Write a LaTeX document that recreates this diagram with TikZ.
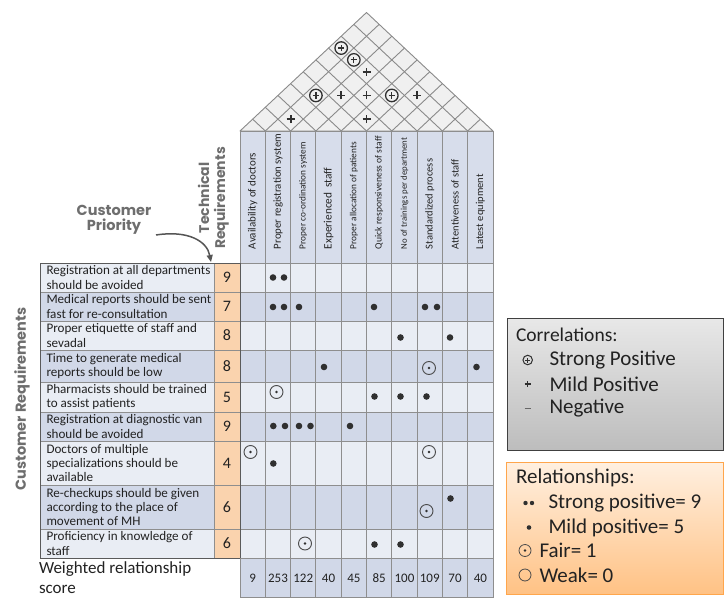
\documentclass[tikz,border=0pt]{standalone}
\usepackage{fontspec}
\setmainfont{Carlito}
\newfontfamily\hdrfont{Poppins}
\usetikzlibrary{arrows.meta}

\definecolor{rowlight}{HTML}{E9EDF4}
\definecolor{rowdark}{HTML}{D1D8E8}
\definecolor{hdrfill}{HTML}{D7DDEB}
\definecolor{prio}{HTML}{FAD3AE}
\definecolor{gridc}{HTML}{8E8E8E}
\definecolor{tblc}{HTML}{5A5A5A}
\definecolor{rooffill}{HTML}{F0F0F0}
\definecolor{roofc}{HTML}{8A8A8A}
\definecolor{labelgray}{HTML}{6E6E6E}
\definecolor{ink}{HTML}{222222}
\definecolor{dotc}{HTML}{303030}
\definecolor{fairc}{HTML}{4A4A4A}
\definecolor{arrowc}{HTML}{555555}

% a plus sign drawn on the centre of a node: node, half arm length, line width
\newcommand{\hoqplus}[3]{%
  \draw[dotc, line width=#3] ([xshift=-#2]#1.center) -- ([xshift=#2]#1.center)
    ([yshift=-#2]#1.center) -- ([yshift=#2]#1.center);}

\begin{document}
\begin{tikzpicture}[x=1pt,y=-1pt,
  every node/.style={inner sep=0pt, outer sep=0pt},
  gridline/.style={draw=gridc, line width=0.9pt},
  roofline/.style={draw=roofc, line width=0.9pt},
  bodytext/.style={anchor=west, align=left, text=ink, font=\fontsize{13.1}{14.2}\selectfont},
  prionum/.style={text=ink, font=\fontsize{16}{16}\selectfont},
  scorenum/.style={text=ink, font=\fontsize{13}{13}\selectfont},
  hdrtext/.style={rotate=90, anchor=west, text=ink},
  rdot/.style={circle, fill=dotc, minimum size=6.6pt},
  rfair/.style={circle, draw=fairc, line width=0.9pt, minimum size=13pt,
    path picture={\fill[dotc] (path picture bounding box.center) circle (1.4pt);}},
  cstrong/.style={circle, draw=dotc, line width=1.3pt, minimum size=12.5pt},
  cmild/.style={minimum size=8pt},
  sidelabel/.style={text=labelgray, align=center, font=\hdrfont\bfseries\fontsize{#1}{#1}\selectfont},
  legtext/.style={anchor=west, text=ink, font=\fontsize{21}{21}\selectfont},
]
\useasboundingbox (0,0) rectangle (725,607);

% ---------- roof (correlation matrix) ----------
\fill[rooffill] (240,131) -- (366.5,12.5) -- (493,131) -- cycle;
\foreach \k in {1,...,9}{
  \draw[roofline] (240+25.3*\k,131) -- ({240+12.65*(\k+10)},{131-11.85*(10-\k)});
  \draw[roofline] (240+25.3*\k,131) -- ({240+12.65*\k},{131-11.85*\k});
}
\draw[roofline, line join=round] (240,131) -- (366.5,12.5) -- (493,131) -- cycle;

% strong positive correlations
\foreach \i/\j in {1/8, 2/8, 2/5, 5/8}{
  \node[cstrong] (cs\i\j) at ({240+12.65*(\i+\j-1)},{131-11.85*(\j-\i)}) {};
  \hoqplus{cs\i\j}{3.2pt}{1.2pt}
}
% mild positive correlations
\foreach \i/\j in {3/8, 3/6, 4/7, 6/9, 2/3, 5/6}{
  \node[cmild] (cm\i\j) at ({240+12.65*(\i+\j-1)},{131-11.85*(\j-\i)}) {};
  \hoqplus{cm\i\j}{4pt}{1.8pt}
}

% ---------- technical requirement headers ----------
\foreach \k in {0,...,9}
  \draw[gridline, fill=hdrfill] (240+25.3*\k,131) rectangle (265.3+25.3*\k,263);
\foreach \txt/\fs [count=\k] in {
    Availability of doctors/11,
    Proper registration system/10.8,
    Proper co-ordination system/9.3,
    Experienced~ staff/11.3,
    Proper allocation of patients/9.3,
    Quick responsiveness of staff/9.6,
    No of trainings per department/8.8,
    Standardized process/10.5,
    Attentiveness of staff/10.5,
    Latest equipment/10.5}
  \node[hdrtext, font=\fontsize{\fs}{\fs}\selectfont] (h\k) at ({240+25.3*(\k-0.5)},249) {\txt};

% ---------- body rows ----------
\foreach \ya/\yb/\fc in {263/292/rowlight, 292/321/rowdark, 321/350/rowlight,
    350/382/rowdark, 382/412/rowlight, 412/441/rowdark, 441/485/rowlight,
    485/529/rowdark, 529/558/rowlight}{
  \draw[gridline, fill=\fc] (40,\ya) rectangle (214,\yb);
  \draw[gridline, fill=prio] (214,\ya) rectangle (240,\yb);
  \foreach \k in {0,...,9}
    \draw[gridline, fill=\fc] (240+25.3*\k,\ya) rectangle (265.3+25.3*\k,\yb);
}
\draw[draw=tblc, line width=1pt] (40,263) rectangle (240,558);

% customer requirements
\node[bodytext] (cr1) at (46.5,277.5) {Registration at all departments\\should be avoided};
\node[bodytext] (cr2) at (46.5,306.5) {Medical reports should be sent\\fast for re-consultation};
\node[bodytext] (cr3) at (46.5,335.5) {Proper etiquette of staff and\\sevadal};
\node[bodytext] (cr4) at (46.5,366) {Time to generate medical\\reports should be low};
\node[bodytext] (cr5) at (46.5,397) {Pharmacists should be trained\\to assist patients};
\node[bodytext] (cr6) at (46.5,426.5) {Registration at diagnostic van\\should be avoided};
\node[bodytext] (cr7) at (46.5,463) {Doctors of multiple\\specializations should be\\available};
\node[bodytext] (cr8) at (46.5,507) {Re-checkups should be given\\according to the place of\\movement of MH};
\node[bodytext] (cr9) at (46.5,543.5) {Proficiency in knowledge of\\staff};

% customer priority values
\foreach \v/\y [count=\r] in {9/277.5, 7/306.5, 8/335.5, 8/366, 5/397, 9/426.5, 4/463, 6/507, 6/543.5}
  \node[prionum] (p\r) at (227,\y) {\v};

% ---------- relationship symbols ----------
\foreach \x/\y [count=\n] in {
    273/277.5, 284/277.5,
    273/307, 284/307, 299/307, 374/307, 425/307, 437/307,
    400.5/337.5, 450/337.5,
    324/367, 476.5/367,
    374.5/396.5, 400.5/396.5, 426.5/396.5,
    273.3/426, 285/426, 299/426, 310.5/426, 350/426,
    273.3/463.5,
    450.5/498.5,
    374.5/544.5, 400.5/544.5}
  \node[rdot] (d\n) at (\x,\y) {};
\foreach \x/\y [count=\n] in {
    429/368, 276.5/392, 250.5/452, 429/452, 426.5/511, 305/543.5}
  \node[rfair] (f\n) at (\x,\y) {};

% ---------- weighted score row ----------
\foreach \v [count=\k from 0] in {9,253,122,40,45,85,100,109,70,40}{
  \draw[gridline, fill=rowdark] (240+25.3*\k,558) rectangle (265.3+25.3*\k,597);
  \node[scorenum] (s\k) at (252.65+25.3*\k,578.5) {\v};
}
\node[anchor=west, align=left, text=ink, font=\fontsize{17}{20}\selectfont]
  (wrs) at (39,578) {Weighted relationship\\score};

% ---------- side labels ----------
\node[sidelabel=14.5, rotate=90] (custreq) at (22,399) {Customer Requirements};
\node[sidelabel=14.5] (cprio) at (114,220) {Customer\\[1pt]Priority};
\node[sidelabel=14, rotate=90] (techreq) at (213.5,198) {Technical\\[2pt]Requirements};
\coordinate (cpTail) at (156,235);
\coordinate (cpHead) at (211,262);
\draw[arrowc, line width=1.5pt, -{Triangle[length=7pt,width=6pt]}]
  (cpTail) .. controls (188,230) and (207,241) .. (cpHead);

% ---------- legend: correlations ----------
\node[draw=black!75, line width=0.9pt, top color=black!9, bottom color=black!26,
  minimum width=216pt, minimum height=132pt] (corbox) at (615,384) {};
\node[legtext, font=\fontsize{19.5}{19.5}\selectfont] (corT) at (516,335) {Correlations:};
\node[circle, draw=dotc, line width=1pt, minimum size=9.5pt] (corS) at (527.7,360) {};
\hoqplus{corS}{2.5pt}{1pt}
\node[minimum size=6pt] (corM) at (527.7,384) {};
\hoqplus{corM}{3pt}{1.1pt}
\node[legtext] (corSt) at (549.5,360) {Strong Positive};
\node[legtext] (corMt) at (549.5,384) {Mild Positive};
\coordinate (corN) at (527.7,408);
\draw[black!60, line width=1pt] ([xshift=-3pt]corN) -- ([xshift=3pt]corN);
\node[legtext] (corNt) at (549.5,408) {Negative};

% ---------- legend: relationships ----------
\node[draw=orange!70!white, line width=0.9pt, top color=orange!12!white, bottom color=orange!48!white,
  minimum width=217pt, minimum height=132pt] (relbox) at (614.5,528) {};
\node[legtext] (relT) at (516,478) {Relationships:};
\node[circle, fill=dotc, minimum size=4.4pt] (relS1) at (525.5,503) {};
\node[circle, fill=dotc, minimum size=4.4pt] (relS2) at (532,503) {};
\node[legtext] (relSt) at (548.5,503) {Strong positive= 9};
\node[circle, fill=dotc, minimum size=4.6pt] (relM) at (529,527.5) {};
\node[legtext] (relMt) at (548.5,527.5) {Mild positive= 5};
\node[rfair, minimum size=12pt, line width=0.8pt] (relF) at (525,550.5) {};
\node[legtext] (relFt) at (539.5,550.5) {Fair= 1};
\node[circle, draw=fairc, line width=0.8pt, minimum size=12pt] (relW) at (525,575) {};
\node[legtext] (relWt) at (539.5,575) {Weak= 0};
\end{tikzpicture}
\end{document}
